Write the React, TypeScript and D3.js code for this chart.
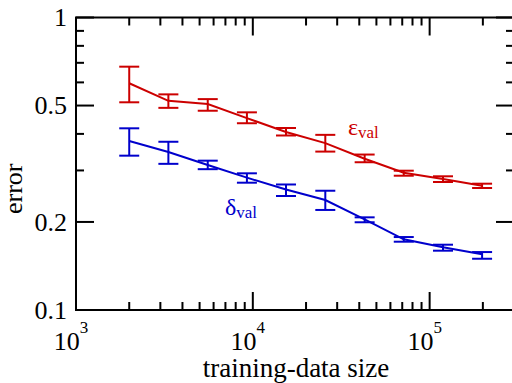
import React from "react";
import * as d3 from "d3";

const sizes = [2000, 3330, 5560, 9260, 15400, 25700, 42900, 71400, 119000, 198000];
const epsVal = [0.596, 0.519, 0.506, 0.453, 0.406, 0.372, 0.329, 0.2946, 0.2804, 0.2661];
const epsLo = [0.513, 0.491, 0.48, 0.435, 0.395, 0.348, 0.32, 0.2878, 0.2739, 0.2613];
const epsHi = [0.679, 0.546, 0.526, 0.474, 0.419, 0.397, 0.34, 0.2994, 0.2865, 0.2703];
const deltaVal = [0.378, 0.347, 0.313, 0.2834, 0.2582, 0.2377, 0.2042, 0.1744, 0.1638, 0.155];
const deltaLo = [0.337, 0.316, 0.303, 0.2724, 0.2453, 0.2198, 0.1995, 0.1712, 0.1595, 0.1497];
const deltaHi = [0.418, 0.376, 0.324, 0.2933, 0.2686, 0.2557, 0.2074, 0.1776, 0.1672, 0.1578];

const yMajor = [0.1, 0.2, 0.5, 1];
const yMajorLabels = ["0.1", "0.2", "0.5", "1"];
const yMinor = [0.3, 0.4, 0.6, 0.7, 0.8, 0.9];
const xMajor = [1e3, 1e4, 1e5];
const xMajorExp = ["3", "4", "5"];
const xMinorMult = [2, 3, 4, 5, 6, 7, 8, 9];

const W = 512, H = 383;
const L = 76, R = 514, T = 17.5, B = 310;
const RED = "#cc0000", BLUE = "#0000cc";
const FONT = "Liberation Serif";

export default function App() {
  const x = d3.scaleLog().domain([1e3, 3e5]).range([L, R]);
  const y = d3.scaleLog().domain([0.1, 1]).range([B, T]);

  const xMinor: number[] = [];
  for (const m of xMajor) for (const k of xMinorMult) if (m * k <= 3e5) xMinor.push(m * k);

  const line = d3.line<number>().x((_, i) => x(sizes[i])).y((v) => y(v));

  const series = [
    { val: epsVal, lo: epsLo, hi: epsHi, color: RED },
    { val: deltaVal, lo: deltaLo, hi: deltaHi, color: BLUE },
  ];

  const MAJ = 18, MIN = 8;
  const ts = { fontFamily: FONT };

  return (
    <svg width={W} height={H} style={{ position: "absolute", left: 0, top: 0, background: "#fff", fontFamily: FONT }}>
      <rect x={0} y={0} width={W} height={H} fill="#fff" />
      {series.map((s, si) => (
        <g key={si} stroke={s.color} strokeWidth={2} fill="none">
          <path d={line(s.val) || ""} />
          {s.val.map((_, i) => {
            const cx = x(sizes[i]);
            return (
              <g key={i}>
                <line x1={cx} x2={cx} y1={y(s.lo[i])} y2={y(s.hi[i])} />
                <line x1={cx - 10} x2={cx + 10} y1={y(s.lo[i])} y2={y(s.lo[i])} />
                <line x1={cx - 10} x2={cx + 10} y1={y(s.hi[i])} y2={y(s.hi[i])} />
              </g>
            );
          })}
        </g>
      ))}
      <g stroke="#000" strokeWidth={2}>
        <rect x={L} y={T} width={R - L} height={B - T} fill="none" />
        {xMajor.map((v) => (
          <g key={"xM" + v}>
            <line x1={x(v)} x2={x(v)} y1={B} y2={B - MAJ} />
            <line x1={x(v)} x2={x(v)} y1={T} y2={T + MAJ} />
          </g>
        ))}
        {xMinor.map((v) => (
          <g key={"xm" + v}>
            <line x1={x(v)} x2={x(v)} y1={B} y2={B - MIN} />
            <line x1={x(v)} x2={x(v)} y1={T} y2={T + MIN} />
          </g>
        ))}
        {yMajor.map((v) => (
          <g key={"yM" + v}>
            <line x1={L} x2={L + MAJ} y1={y(v)} y2={y(v)} />
            <line x1={R} x2={R - MAJ} y1={y(v)} y2={y(v)} />
          </g>
        ))}
        {yMinor.map((v) => (
          <g key={"ym" + v}>
            <line x1={L} x2={L + MIN} y1={y(v)} y2={y(v)} />
            <line x1={R} x2={R - MIN} y1={y(v)} y2={y(v)} />
          </g>
        ))}
      </g>
      <g fontSize={26} fill="#000">
        {yMajor.map((v, i) => (
          <text key={"yl" + v} style={ts} x={L - 9} y={y(v)} dy="0.34em" textAnchor="end">
            {yMajorLabels[i]}
          </text>
        ))}
        {xMajor.map((v, i) => (
          <text key={"xl" + v} style={ts} x={x(v) - 5} y={350} textAnchor="middle">
            10
            <tspan fontSize={17} dy={-17}>{xMajorExp[i]}</tspan>
          </text>
        ))}
        <text style={ts} x={(L + R) / 2 + 1} y={377} fontSize={27} textAnchor="middle">training-data size</text>
        <text style={ts} transform={`translate(22,${(T + B) / 2 + 25}) rotate(-90)`} textAnchor="middle">error</text>
      </g>
      <text style={ts} x={348} y={135} fill={RED} fontSize={24}>
        ε<tspan fontSize={17} dy={3}>val</tspan>
      </text>
      <text style={ts} x={225} y={215} fill={BLUE} fontSize={24}>
        δ<tspan fontSize={17} dy={3}>val</tspan>
      </text>
    </svg>
  );
}
